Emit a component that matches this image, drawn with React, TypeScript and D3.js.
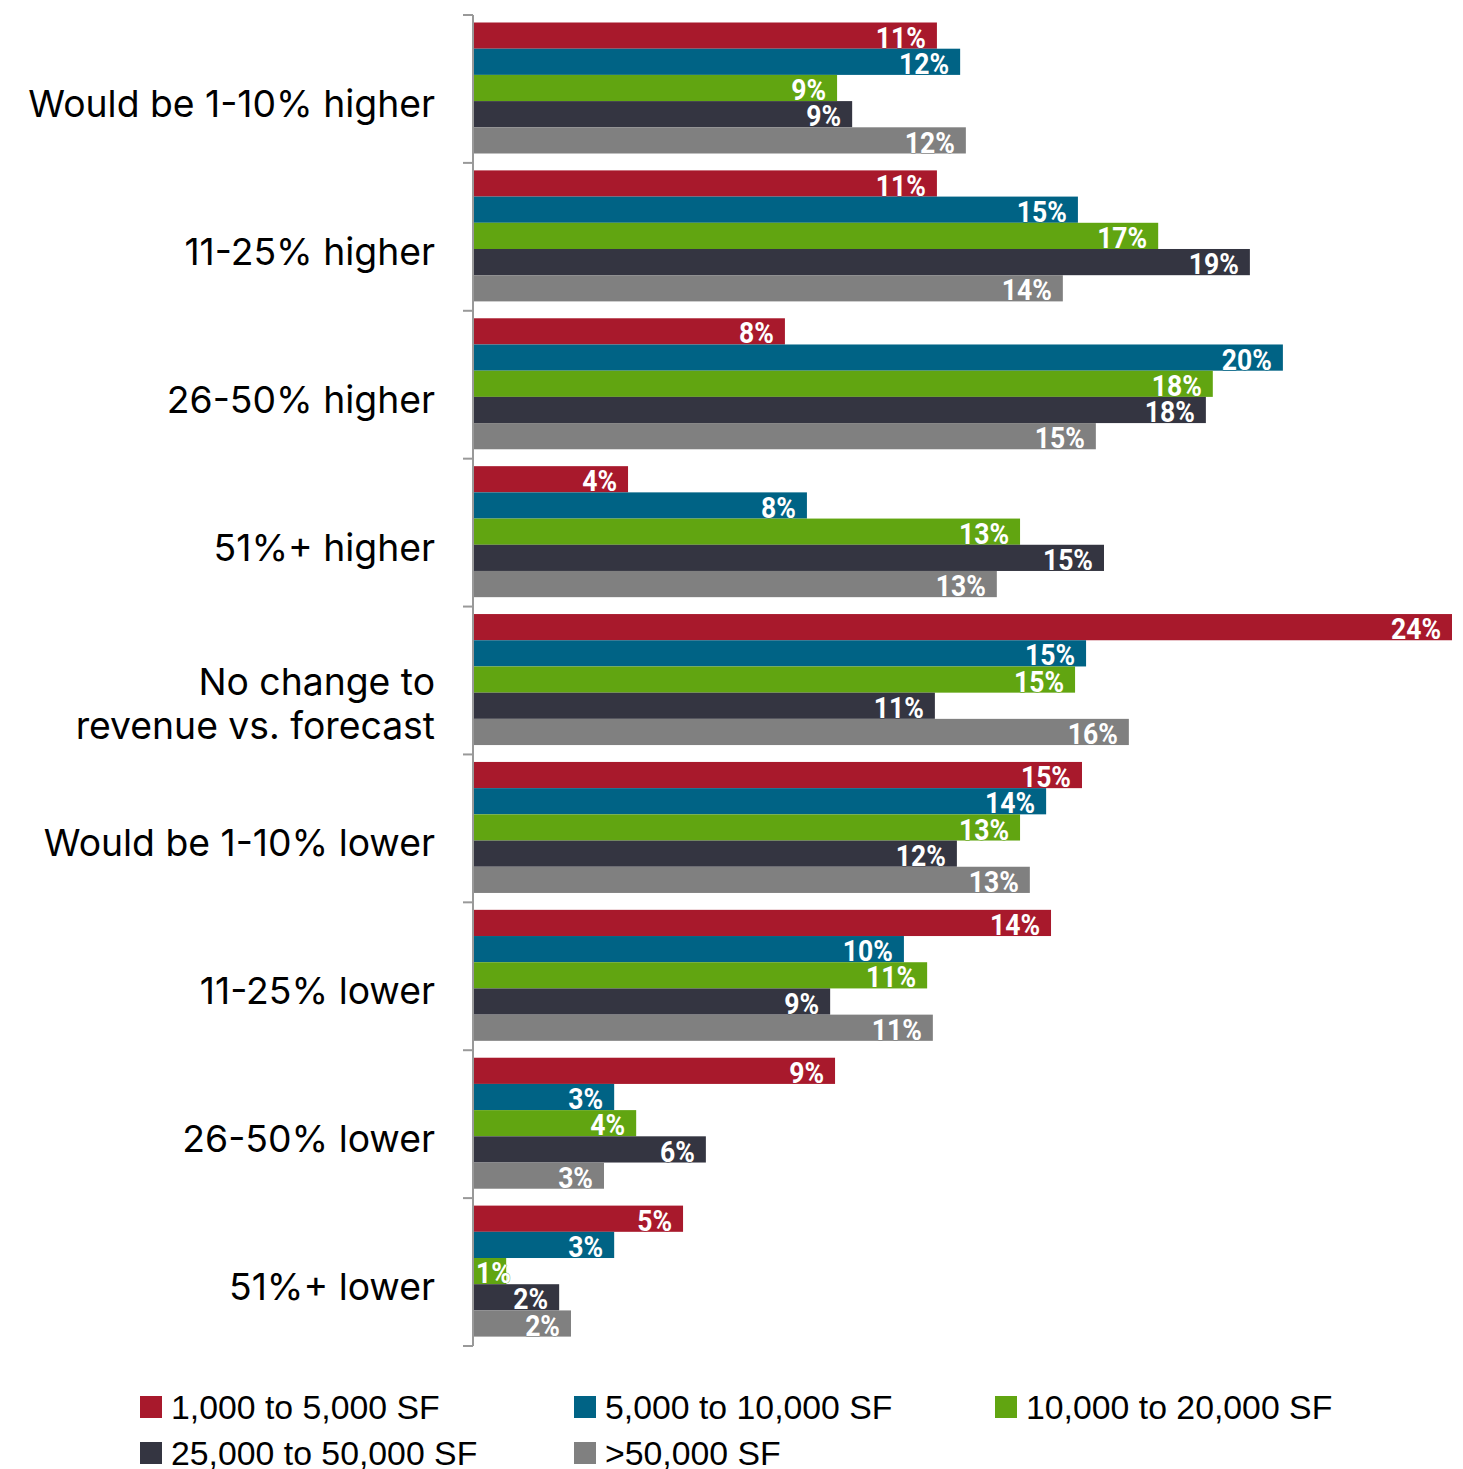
import React from "react";
import * as d3 from "d3";

const categories: string[][] = [
  ["Would be 1-10% higher"],
  ["11-25% higher"],
  ["26-50% higher"],
  ["51%+ higher"],
  ["No change to", "revenue vs. forecast"],
  ["Would be 1-10% lower"],
  ["11-25% lower"],
  ["26-50% lower"],
  ["51%+ lower"],
];

const seriesNames = [
  "1,000 to 5,000 SF",
  "5,000 to 10,000 SF",
  "10,000 to 20,000 SF",
  "25,000 to 50,000 SF",
  ">50,000 SF",
];

const seriesColors = ["#A8192C", "#006385", "#61A511", "#343541", "#808080"];

// bar lengths (percent) as drawn
const values1000to5000 = [11.36, 11.36, 7.63, 3.78, 24, 14.92, 14.16, 8.86, 5.13];
const values5000to10000 = [11.93, 14.82, 19.85, 8.17, 15.02, 14.04, 10.55, 3.44, 3.44];
const values10000to20000 = [8.91, 16.79, 18.13, 13.4, 14.75, 13.4, 11.12, 3.98, 0.79];
const values25000to50000 = [9.28, 19.04, 17.96, 15.46, 11.31, 11.85, 8.74, 5.69, 2.09];
const valuesOver50000 = [12.07, 14.45, 15.26, 12.83, 16.07, 13.64, 11.26, 3.19, 2.38];

// printed labels (percent)
const labels1000to5000 = [11, 11, 8, 4, 24, 15, 14, 9, 5];
const labels5000to10000 = [12, 15, 20, 8, 15, 14, 10, 3, 3];
const labels10000to20000 = [9, 17, 18, 13, 15, 13, 11, 4, 1];
const labels25000to50000 = [9, 19, 18, 15, 11, 12, 9, 6, 2];
const labelsOver50000 = [12, 14, 15, 13, 16, 13, 11, 3, 2];

const seriesValues = [values1000to5000, values5000to10000, values10000to20000, values25000to50000, valuesOver50000];
const seriesLabels = [labels1000to5000, labels5000to10000, labels10000to20000, labels25000to50000, labelsOver50000];

const W = 1463;
const H = 1469;
const axisX = 474;
const labelScaleX = 0.9;
const labelFont = 29.5;

export default function App() {
  const x = d3.scaleLinear().domain([0, 24]).range([axisX, 1452]);
  const y = d3
    .scaleBand<number>()
    .domain(d3.range(categories.length))
    .range([15, 1346])
    .padding(0);
  const bw = y.bandwidth();
  const inner = d3
    .scaleBand<number>()
    .domain(d3.range(seriesNames.length))
    .range([7.5, 7.5 + 131])
    .padding(0);
  const ticks = d3.range(categories.length + 1).map((i) => 15 + i * bw);

  const legendCols = [140, 574, 995];
  const legendRows = [1396, 1442];

  return (
    <svg
      width={W}
      height={H}
      style={{ position: "absolute", left: 0, top: 0, background: "#fff" }}
    >
      {/* bars */}
      {categories.map((_, ci) => (
        <g key={ci} transform={`translate(0,${y(ci)})`}>
          {seriesValues.map((vals, si) => {
            const x1 = x(vals[ci]);
            const y0 = inner(si)!;
            const h = inner.bandwidth();
            const txt = `${seriesLabels[si][ci]}%`;
            const estW = txt.length * labelFont * 0.58 * labelScaleX;
            const fits = x1 - 11 - estW > axisX;
            const tx = fits ? x1 - 11 : axisX + 2;
            return (
              <g key={si}>
                <rect x={axisX} y={y0} width={x1 - axisX} height={h} fill={seriesColors[si]} />
                <text
                  transform={`translate(${tx},${y0 + h - 1}) scale(${labelScaleX},1)`}
                  textAnchor={fits ? "end" : "start"}
                  fill="#fff"
                  stroke={seriesColors[si]}
                  strokeWidth={0.8}
                  paintOrder="stroke"
                  fontFamily="Roboto, 'Liberation Sans', sans-serif"
                  fontWeight={700}
                  fontSize={labelFont}
                >
                  {txt}
                </text>
              </g>
            );
          })}
        </g>
      ))}

      {/* axis */}
      <line x1={axisX - 1} x2={axisX - 1} y1={ticks[0]} y2={ticks[ticks.length - 1]} stroke="#999" strokeWidth={2} />
      {ticks.map((t, i) => (
        <line key={i} x1={axisX - 11} x2={axisX - 1} y1={t} y2={t} stroke="#999" strokeWidth={2} />
      ))}

      {/* category labels */}
      {categories.map((lines, ci) => {
        const c = y(ci)! + bw / 2;
        const first = c + 28 - (lines.length - 1) * 14;
        return (
          <text
            key={ci}
            textAnchor="end"
            fontFamily="Inter, 'Noto Sans', sans-serif"
            fontSize={37.3}
            fill="#000"
          >
            {lines.map((l, li) => (
              <tspan key={li} x={435} y={first + li * 44}>
                {l}
              </tspan>
            ))}
          </text>
        );
      })}

      {/* legend */}
      {seriesNames.map((name, si) => {
        const col = si % 3;
        const row = Math.floor(si / 3);
        const lx = legendCols[col];
        const ly = legendRows[row];
        return (
          <g key={si}>
            <rect x={lx} y={ly} width={22} height={22} fill={seriesColors[si]} />
            <text
              x={lx + 31}
              y={ly + 23}
              fontFamily="'Liberation Sans', Arial, sans-serif"
              fontSize={33.8}
              fill="#000"
            >
              {name}
            </text>
          </g>
        );
      })}
    </svg>
  );
}
